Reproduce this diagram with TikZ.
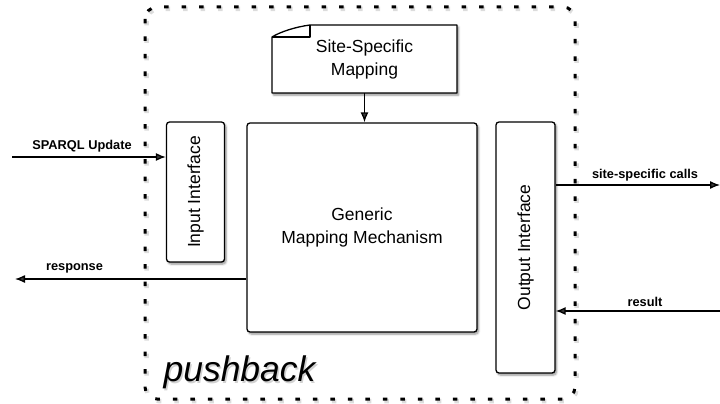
\documentclass[tikz,border=0pt]{standalone}
\usepackage{fontspec}
\setmainfont{Liberation Sans}
\usetikzlibrary{arrows.meta,shadows,shadows.blur,calc}
\tikzset{
  box/.style={draw, line width=1.3pt, rounded corners=3pt, fill=white, inner sep=0pt,
    blur shadow={shadow xshift=1.5pt, shadow yshift=-2pt, shadow blur steps=6, shadow opacity=45}},
  maintext/.style={font=\fontsize{17.5}{23}\selectfont, align=center},
  lbl/.style={font=\fontsize{12.8}{15}\selectfont\bfseries, inner sep=0pt},
  conn/.style={line width=1.3pt, -{Latex[length=10pt,width=8pt]}},
  dots/.style={dash pattern=on 4.5pt off 13pt, rounded corners=12pt},
}
\begin{document}
\begin{tikzpicture}[x=1pt,y=-1pt]
\useasboundingbox (0,0) rectangle (720,404);
% container shadow
\draw[gray!60, opacity=0.45, line width=4.5pt, dots]
  (146.5,9) rectangle (576.5,401);
\draw[black, line width=3pt, dots]
  (145,7) rectangle (575,399);
% pushback (with soft shadow)
\node[font=\fontsize{35.5}{40}\selectfont\itshape, text=black!40, opacity=0.45, anchor=base west] at (161.5,383) {pushback};
\node (push) [font=\fontsize{35.5}{40}\selectfont\itshape, anchor=base west] at (160,381) {pushback};
% boxes
\node (inp) [box, minimum width=58pt, minimum height=140pt] at (195.5,192) {};
\node[rotate=90, maintext] at (inp.center) {Input Interface};
\node (gen) [box, minimum width=230pt, minimum height=209pt, maintext] at (362,227.5) {Generic\\Mapping Mechanism};
\node (out) [box, minimum width=59pt, minimum height=251pt] at (525.5,247.5) {};
\node[rotate=90, maintext] at (out.center) {Output Interface};
% document shape
\draw[line width=1.3pt, fill=white, line join=round,
    blur shadow={shadow xshift=1.5pt, shadow yshift=-2pt, shadow blur steps=6, shadow opacity=45}]
  (272,93) -- (272,37) .. controls (280,32) and (295,27) .. (310,25) -- (457,25) -- (457,93) -- cycle;
\draw[line width=1.3pt, line join=round] (272,37) -- (310,37) -- (310,25);
\node (doc) [maintext, minimum width=185pt, minimum height=68pt, inner sep=0pt] at (364.5,59) {Site-Specific\\Mapping};
% connectors
\coordinate (sparqlstart) at (12,157);
\coordinate (respend) at (15,279);
\coordinate (callsend) at (720,185);
\coordinate (resultstart) at (720,311);
\draw[conn] (doc.south) -- (doc.south |- gen.north);
\draw[conn] (sparqlstart) -- (sparqlstart -| inp.west);
\draw[conn] (respend -| gen.west) -- (respend);
\draw[conn] (callsend -| out.east) -- (callsend);
\draw[conn] (resultstart) -- (resultstart -| out.east);
% labels
\node[lbl] at (82,146.5) {SPARQL Update};
\node[lbl] at (74.5,268) {response};
\node[lbl] at (645,175) {site-specific calls};
\node[lbl] at (645,302) {result};
\end{tikzpicture}
\end{document}
